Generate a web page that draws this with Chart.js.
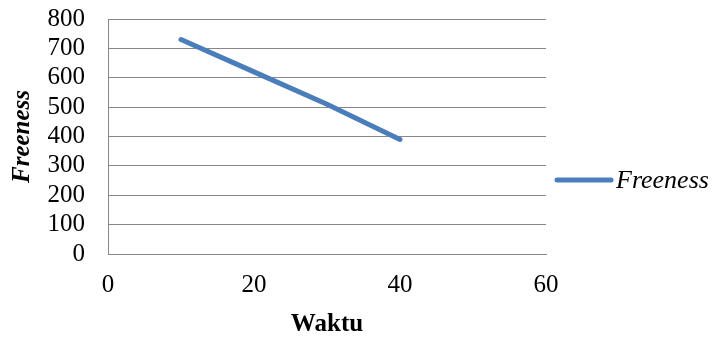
<!DOCTYPE html>
<html>
<head>
<meta charset="utf-8">
<script src="https://cdn.jsdelivr.net/npm/chart.js@4/dist/chart.umd.min.js"></script>
<style>
  html, body { margin: 0; padding: 0; background: #fff; }
  #wrap { width: 712px; height: 337px; }
</style>
</head>
<body>
<div id="wrap"><canvas id="freeness-canvas" width="712" height="337"></canvas></div>
<script>
// 数据
const waktu = [10, 20, 30, 40];
const freeness = [730, 620, 510, 390];
const seriesName = 'Freeness';
const xTicks = [0, 20, 40, 60];
const yMax = 800, yStep = 100;

const SERIF = '"Liberation Serif", "Times New Roman", serif';
const LINE_BLUE = '#4A7EBB';
const GRID_GREY = '#888888';

// 右侧图例（线段 + 斜体文字）
const sideLegend = {
    id: 'sideLegend',
    afterDraw(chart) {
        const ctx = chart.ctx;
        const ds = chart.data.datasets[0];
        const y = 180;
        ctx.save();
        ctx.strokeStyle = ds.borderColor;
        ctx.lineWidth = 5;
        ctx.lineCap = 'round';
        ctx.beginPath();
        ctx.moveTo(557, y);
        ctx.lineTo(611, y);
        ctx.stroke();
        ctx.fillStyle = '#000';
        ctx.font = 'italic 26px ' + SERIF;
        ctx.textBaseline = 'middle';
        ctx.textAlign = 'left';
        ctx.fillText(ds.label, 616, y + 1);
        ctx.restore();
    }
};

new Chart(document.getElementById('freeness-canvas').getContext('2d'), {
    type: 'line',
    data: {
        datasets: [{
            label: seriesName,
            data: waktu.map((x, i) => ({ x, y: freeness[i] })),
            borderColor: LINE_BLUE,
            backgroundColor: LINE_BLUE,
            borderWidth: 5,
            borderCapStyle: 'round',
            pointRadius: 0,
            tension: 0,
        }]
    },
    options: {
        responsive: false,
        animation: false,
        layout: { padding: { top: 0, right: 166, left: 0, bottom: 0 } },
        plugins: {
            legend: { display: false },
            tooltip: { enabled: false },
        },
        scales: {
            x: {
                type: 'linear',
                min: 0,
                max: 60,
                afterBuildTicks: s => { s.ticks = xTicks.map(v => ({ value: v })); },
                afterFit: s => { s.height = 83; },
                grid: { display: false, drawTicks: false },
                border: { display: true, color: GRID_GREY, width: 1 },
                ticks: { color: '#000', font: { family: SERIF, size: 25 }, padding: 16, maxRotation: 0 },
                title: {
                    display: true,
                    text: 'Waktu',
                    color: '#000',
                    font: { family: SERIF, size: 25, weight: 'bold', lineHeight: 1 },
                    padding: 0,
                },
            },
            y: {
                min: 0,
                max: yMax,
                afterFit: s => { s.width = 108; s.paddingTop = 19; },
                grid: { color: GRID_GREY, lineWidth: 1, drawTicks: false },
                border: { display: true, color: GRID_GREY, width: 1 },
                ticks: {
                    stepSize: yStep,
                    autoSkip: false,
                    color: '#000',
                    font: { family: SERIF, size: 25 },
                    padding: 23,
                },
                title: {
                    display: true,
                    text: 'Freeness',
                    color: '#000',
                    font: { family: SERIF, size: 25, weight: 'bold', style: 'italic', lineHeight: 1 },
                    padding: { top: 10, bottom: 0 },
                },
            },
        },
    },
    plugins: [sideLegend],
});
</script>
</body>
</html>
